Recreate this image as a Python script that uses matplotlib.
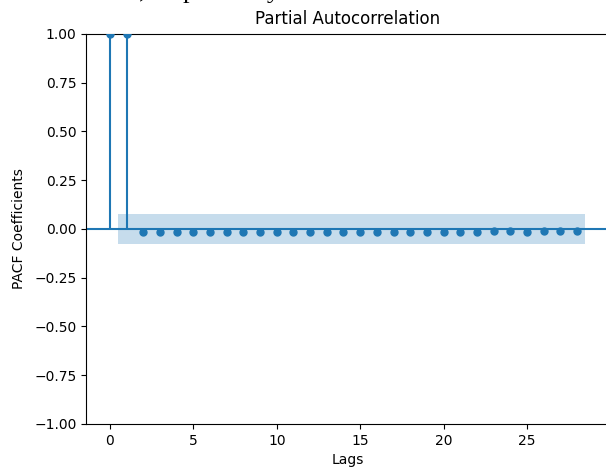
import matplotlib
matplotlib.use("Agg")
import matplotlib.pyplot as plt
import numpy as np

# PACF values, lags 0..28
lags = np.arange(0, 29)
pacf_vals = [1.0, 1.0,
             -0.015, -0.015, -0.015, -0.015, -0.015, -0.015, -0.015,
             -0.015, -0.015, -0.015, -0.015, -0.015, -0.015, -0.015,
             -0.015, -0.015, -0.015, -0.015, -0.015, -0.015, -0.015,
             -0.008, -0.008, -0.015, -0.009, -0.010, -0.008]
conf = 0.078

title = "Partial Autocorrelation"
xlabel = "Lags"
ylabel = "PACF Coefficients"
yticks = [-1.0, -0.75, -0.5, -0.25, 0.0, 0.25, 0.5, 0.75, 1.0]
xticks = [0, 5, 10, 15, 20, 25]

fig = plt.figure(figsize=(6.06, 4.70), dpi=100)
# axes runs past the right edge, as in the cropped screenshot
ax = fig.add_axes([0.1422, 0.0979, 0.9, 0.8298])

# stems, markers and zero line like statsmodels plot_pacf
ax.vlines(lags, 0, pacf_vals, color="C0", linewidth=1.5)
ax.plot(lags, pacf_vals, marker="o", markersize=5, linestyle="None", color="C0", zorder=3)
ax.axhline(0, color="C0", linewidth=1.5)

band_x = lags[1:].astype(float)
band_x[0] -= 0.5
band_x[-1] += 0.5
ax.fill_between(band_x, -conf, conf, color="C0", alpha=0.25, linewidth=0)

ax.set_xlim(-1.425, 31.27)
ax.set_ylim(-1, 1)
ax.set_xticks(xticks)
ax.set_yticks(yticks)
# centred where the original (uncropped) axes had its middle
ax.set_title(title, pad=7, x=0.48)
ax.set_xlabel(xlabel, x=0.48)
ax.set_ylabel(ylabel, labelpad=6)

# bottom of a text line cut off by the screenshot
fig.text(139 / 606, 1 + 2.5 / 470, ", respectively", family="Liberation Serif",
         fontsize=19, ha="left", va="baseline")

fig.savefig("out.png", dpi=100)
